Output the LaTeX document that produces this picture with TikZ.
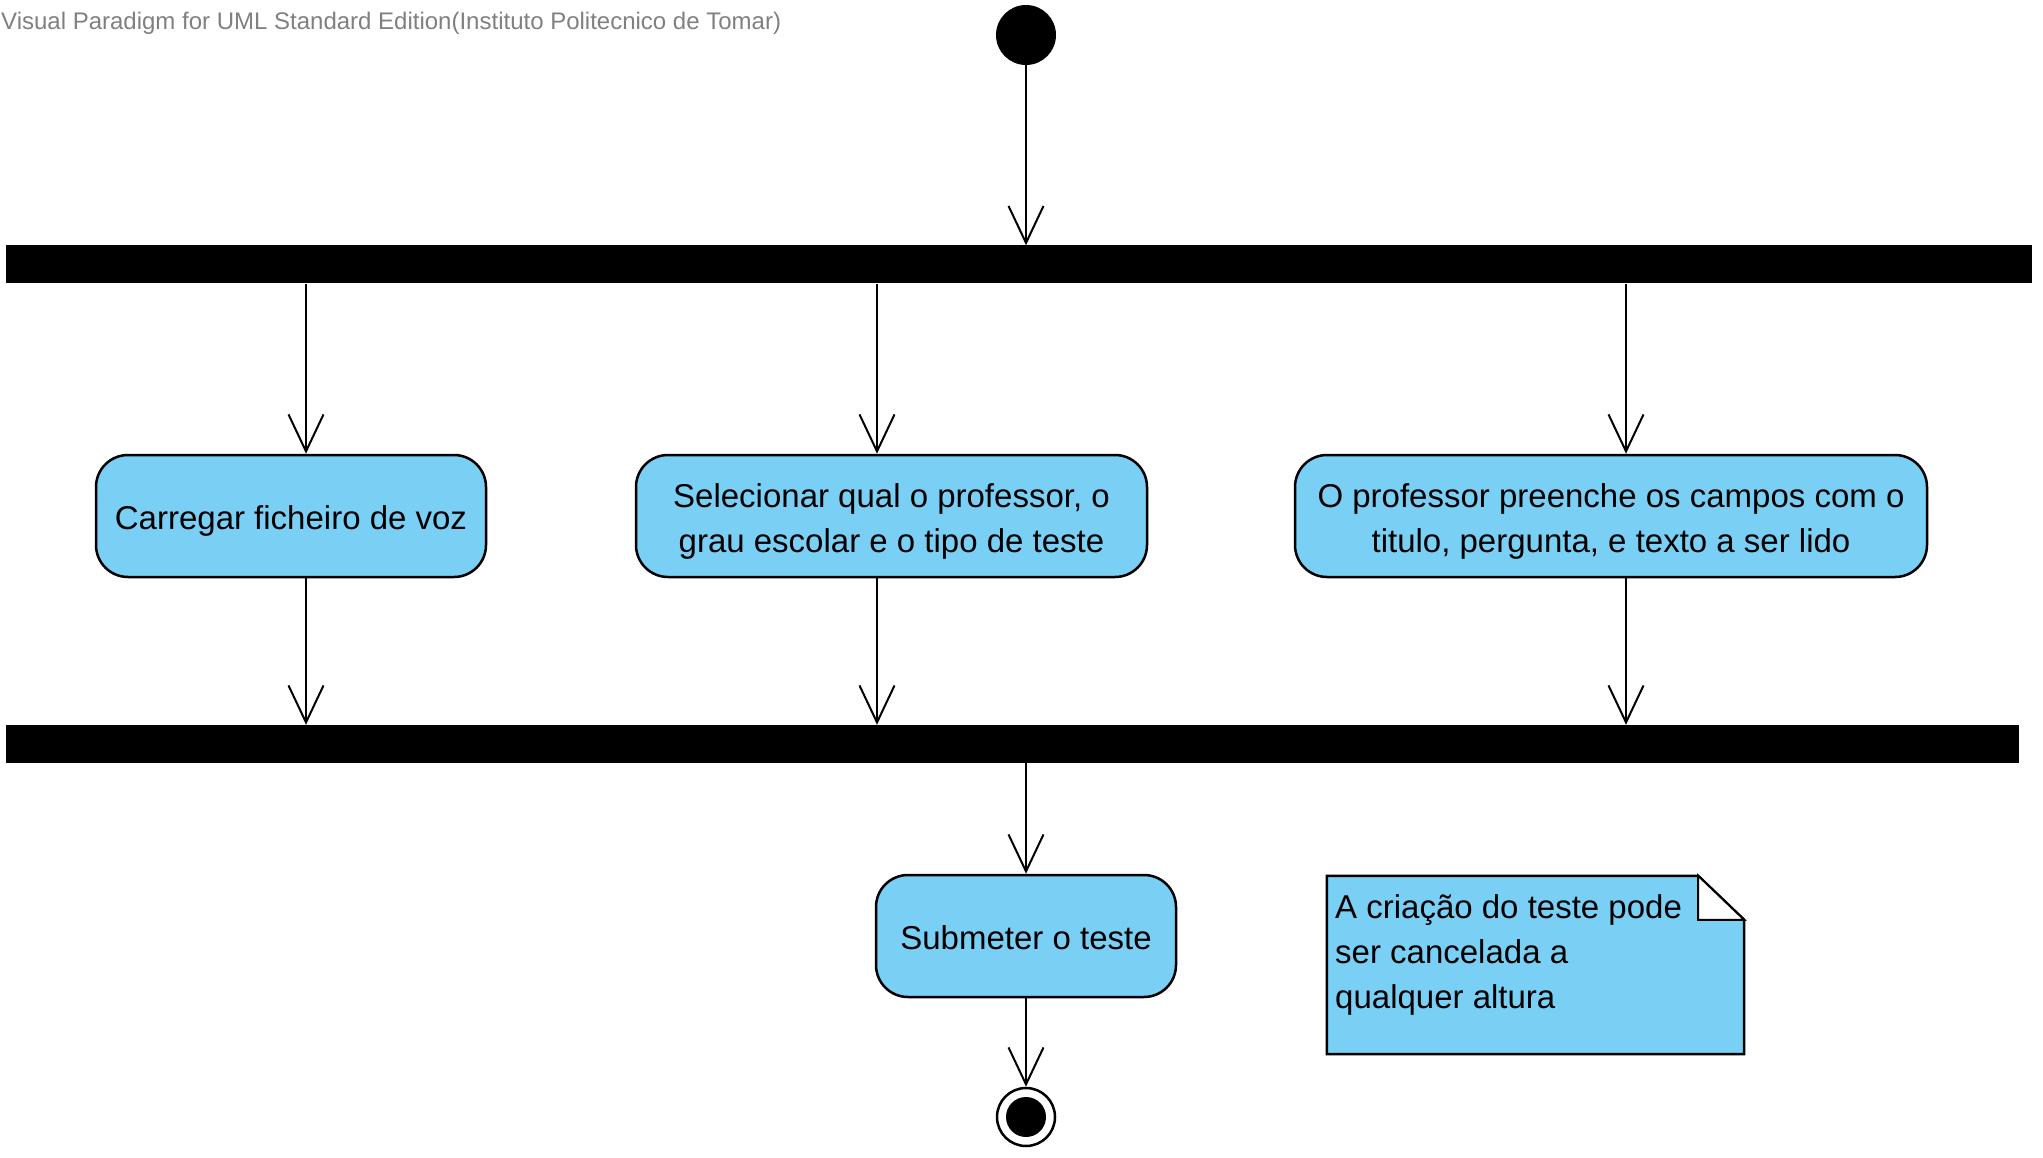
\documentclass[tikz,border=0pt]{standalone}
\usepackage{fontspec}
\setmainfont{Liberation Sans}
\usetikzlibrary{arrows.meta,calc}
\definecolor{vpblue}{RGB}{122,207,245}
\definecolor{hdrgray}{RGB}{128,128,128}
\newcommand\myLift[1]{\rule{0pt}{#1pt}}
\begin{document}
\begin{tikzpicture}[x=1pt,y=-1pt,
  action/.style={draw, line width=2.5pt, fill=vpblue, rounded corners=32pt, minimum height=122pt, align=center, inner sep=0pt, font=\fontsize{33}{45}\selectfont},
  bar/.style={fill=black, draw=none, inner sep=0pt, minimum height=38pt},
  flow/.style={line width=2pt, -{Straight Barb[length=37pt,width=35pt,line width=2pt]}},
]
\useasboundingbox (0,0) rectangle (2043,1158);

\node[anchor=base west, text=hdrgray, font=\fontsize{24}{28}\selectfont, inner sep=0pt] (hdr) at (1,30) {Visual Paradigm for UML Standard Edition(Instituto Politecnico de Tomar)};

\node[circle, fill=black, minimum size=60pt, inner sep=0pt] (start) at (1026,35) {};
\node[bar, minimum width=2026pt] (fork) at (1019,264.5) {};
\node[bar, minimum width=2013pt] (join) at (1012.5,744) {};

\node[action, minimum width=390pt] (a1) at (291,516) {\myLift{33}Carregar ficheiro de voz};
\node[action, minimum width=511pt] (a2) at (891.5,516) {\myLift{34}Selecionar qual o professor, o\\grau escolar e o tipo de teste};
\node[action, minimum width=632pt] (a3) at (1611,516) {\myLift{34}O professor preenche os campos com o\\titulo, pergunta, e texto a ser lido};
\node[action, minimum width=300pt] (a4) at (1026,936) {\myLift{27}Submeter o teste};
\node[circle, draw, line width=2.5pt, fill=white, minimum size=58pt, inner sep=0pt] (end) at (1026,1117) {};
\node[circle, fill=black, minimum size=40pt, inner sep=0pt] (endin) at (end) {};

\coordinate (c1) at (306,0);
\coordinate (c2) at (877,0);
\coordinate (c3) at (1626,0);

\draw[flow] (start.south) -- (fork.north -| start);
\draw[flow] (fork.south -| c1) -- (a1.north -| c1);
\draw[flow] (fork.south -| c2) -- (a2.north -| c2);
\draw[flow] (fork.south -| c3) -- (a3.north -| c3);
\draw[flow] (a1.south -| c1) -- (join.north -| c1);
\draw[flow] (a2.south -| c2) -- (join.north -| c2);
\draw[flow] (a3.south -| c3) -- (join.north -| c3);
\draw[flow] (join.south -| a4) -- (a4.north);
\draw[flow] (a4.south) -- (end.north);

\node[minimum width=417pt, minimum height=178pt, inner sep=0pt] (note) at (1535.5,965) {};
\draw[line width=2.5pt, fill=vpblue] (note.north west) -- ($(note.north east)+(-46,0)$) -- ($(note.north east)+(0,44)$) -- (note.south east) -- (note.south west) -- cycle;
\draw[line width=2pt, fill=white, line join=miter] ($(note.north east)+(-46,0)$) -- ($(note.north east)+(-46,44)$) -- ($(note.north east)+(0,44)$) -- cycle;
\node[anchor=north west, align=left, inner sep=0pt, font=\fontsize{33}{45}\selectfont] (notetxt) at (1335,894) {A criação do teste pode\\ser cancelada a\\qualquer altura};
\end{tikzpicture}
\end{document}
